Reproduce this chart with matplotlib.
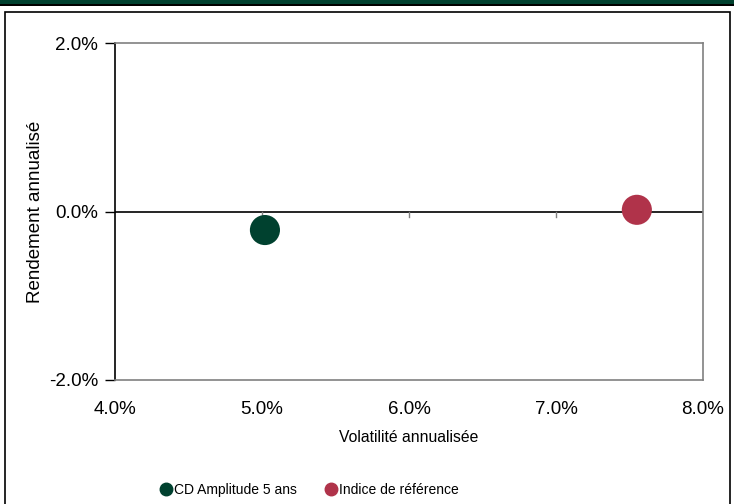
import matplotlib
matplotlib.use("Agg")
import matplotlib.pyplot as plt
from matplotlib.patches import Rectangle
from matplotlib.lines import Line2D
from matplotlib.ticker import FuncFormatter

plt.rcParams['font.family'] = ['Liberation Sans', 'DejaVu Sans']

# data (percent)
names = ["CD Amplitude 5 ans", "Indice de référence"]
volatility = [5.02, 7.55]
returns = [-0.22, 0.02]
colors = ["#00412F", "#B0334A"]

fig = plt.figure(figsize=(7.34, 5.04), dpi=100)

# header band and outer frame
fig.patches.append(Rectangle((0, 1 - 4 / 504), 1, 4 / 504, transform=fig.transFigure,
                             facecolor="#00412F", edgecolor="none"))
fig.patches.append(Rectangle((0, 1 - 5.5 / 504), 1, 1.5 / 504, transform=fig.transFigure,
                             facecolor="black", edgecolor="none"))
fig.patches.append(Rectangle((5 / 734, -0.01), 725 / 734, 1.01 - 12 / 504,
                             transform=fig.transFigure, facecolor="none",
                             edgecolor="black", linewidth=1.2))

ax = fig.add_axes([115 / 734, 1 - 380 / 504, 588 / 734, 337 / 504])
for n, x, y, c in zip(names, volatility, returns, colors):
    ax.scatter(x, y, s=470, color=c, zorder=5, label=n, edgecolors="none")

ax.set_xlim(4, 8)
ax.set_ylim(-2, 2)
ax.set_xticks([4, 5, 6, 7, 8])
ax.set_yticks([-2, 0, 2])
ax.xaxis.set_major_formatter(FuncFormatter(lambda v, p: "%.1f%%" % v))
ax.yaxis.set_major_formatter(FuncFormatter(lambda v, p: "%.1f%%" % v))

# x axis crosses at zero, labels kept at the bottom
ax.spines['top'].set_color("#808080")
ax.spines['right'].set_color("#808080")
ax.spines['bottom'].set_color("#808080")
ax.spines['left'].set_color("black")
for s in ax.spines.values():
    s.set_linewidth(1.2)
ax.axhline(0, color="black", linewidth=1.2, zorder=2)
for x in [5, 6, 7, 8]:
    ax.plot([x, x], [0, -0.07], color="#808080", linewidth=1, zorder=2)
ax.tick_params(axis='x', length=0, pad=21, labelsize=13.5)
ax.tick_params(axis='y', length=7, width=1, direction='out', labelsize=13.5, pad=5)
for t in ax.get_xticklabels():
    t.set_verticalalignment('center')

ax.set_xlabel("Volatilité annualisée", fontsize=11.3, labelpad=9)
ax.set_ylabel("Rendement annualisé", fontsize=13.5, labelpad=4)

handles = [Line2D([], [], marker='o', linestyle='', color=c, markersize=9) for c in colors]
fig.legend(handles, names, loc='center', bbox_to_anchor=(309 / 734, 1 - 490 / 504), ncol=2,
           frameon=False, fontsize=10, handletextpad=0.05, columnspacing=2.0,
           handlelength=1.0)

fig.savefig("out.png", dpi=100)
